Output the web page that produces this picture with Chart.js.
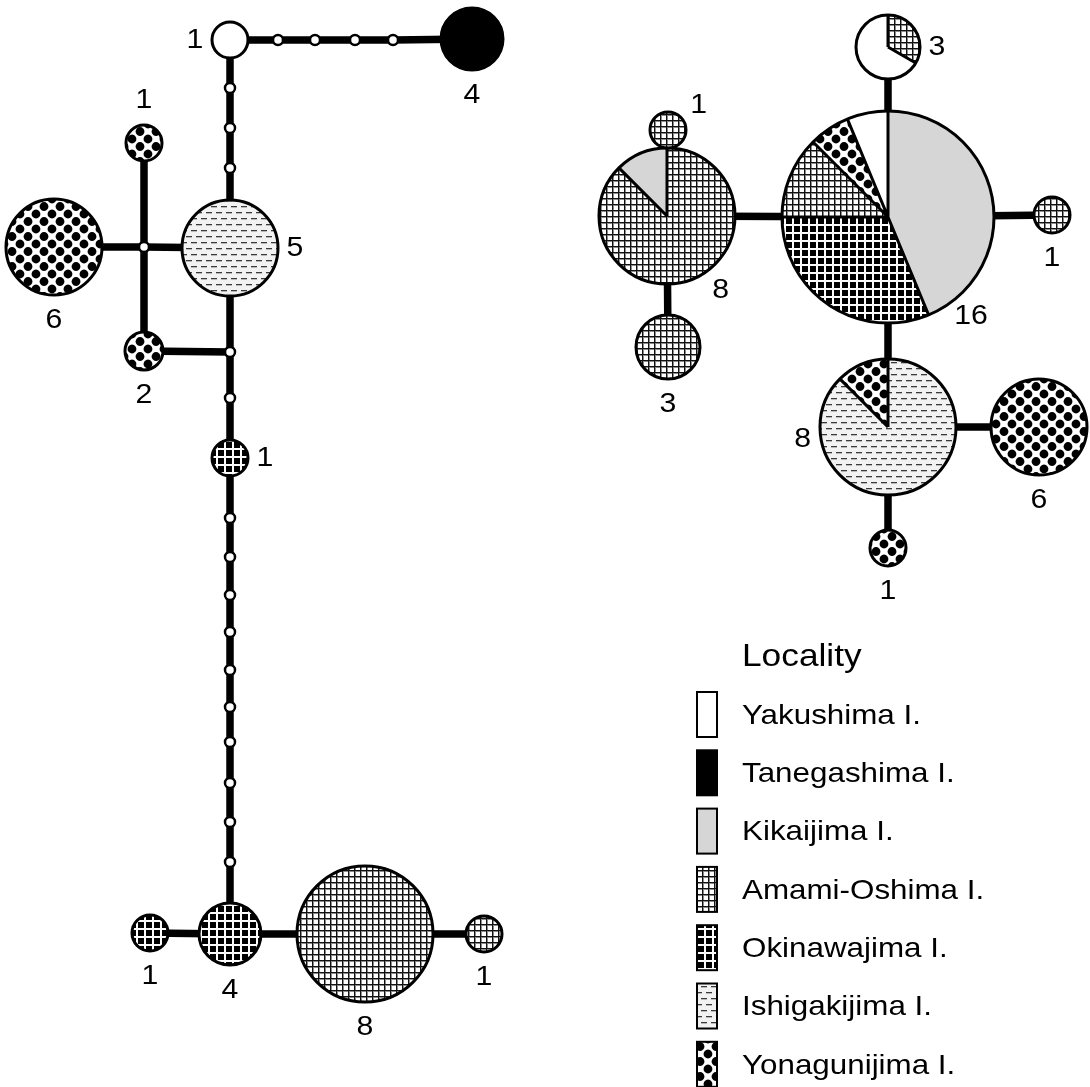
<!DOCTYPE html>
<html>
<head>
<meta charset="utf-8">
<script src="https://cdn.jsdelivr.net/npm/chart.js@4.4.0/dist/chart.umd.min.js"></script>
<style>
    html, body { margin: 0; padding: 0; background: #fff; }
    canvas { display: block; }
</style>
</head>
<body>
<canvas id="network" width="1090" height="1087"></canvas>
<script>
// localities (legend order)
const localities = ['Yakushima I.', 'Tanegashima I.', 'Kikaijima I.', 'Amami-Oshima I.',
    'Okinawajima I.', 'Ishigakijima I.', 'Yonagunijima I.'];

// haplotypes: layout position in network units, and [locality, count] slices clockwise from top
const hapIds = ['Y1', 'T4', 'I5', 'G1', 'G6', 'G2', 'O1', 'O4', 'O1b', 'A8', 'A1',
    'R3', 'R16', 'R8a', 'R1a', 'R3b', 'R1b', 'R8b', 'R6', 'R1c'];
const hapX = [230, 472, 230, 144, 54, 144, 230, 230, 150, 365, 484,
    888, 888, 667, 668, 668, 1052, 888, 1039, 888];
const hapY = [40, 39, 248, 143, 247, 351, 458, 934, 933, 934, 934,
    47, 217, 216, 130, 347, 215, 427, 427, 548];
const hapSlices = [
    [[0, 1]], [[1, 4]], [[5, 5]], [[6, 1]], [[6, 6]], [[6, 2]], [[4, 1]], [[4, 4]], [[4, 1]], [[3, 8]], [[3, 1]],
    [[3, 1], [0, 2]],
    [[2, 7], [4, 5], [3, 2], [6, 1], [0, 1]],
    [[3, 7], [2, 1]],
    [[3, 1]], [[3, 3]], [[3, 1]],
    [[5, 7], [6, 1]],
    [[6, 6]], [[6, 1]]
];
// side of the count label, degrees clockwise from top
const hapLabelAngle = [270, 180, 90, 0, 180, 180, 90, 180, 180, 180, 180,
    90, 140, 144, 50, 180, 180, 262, 180, 180];

// missing (median) haplotypes
const medIds = ['m1', 'm2', 'm3', 'm4', 'v1', 'v2', 'v3', 'J', 'K', 'v4',
    'd1', 'd2', 'd3', 'd4', 'd5', 'd6', 'd7', 'd8', 'd9', 'd10'];
const medX = [278, 315, 355, 393, 230, 230, 230, 144, 230, 230,
    230, 230, 230, 230, 230, 230, 230, 230, 230, 230];
const medY = [40, 40, 40, 40, 88, 128, 168, 247, 352, 398,
    518, 557, 595, 632, 670, 707, 742, 783, 822, 862];

// mutational paths
const paths = [
    ['Y1', 'm1', 'm2', 'm3', 'm4', 'T4'],
    ['Y1', 'v1', 'v2', 'v3', 'I5', 'K', 'v4', 'O1', 'd1', 'd2', 'd3', 'd4', 'd5', 'd6', 'd7', 'd8', 'd9', 'd10', 'O4'],
    ['G6', 'J', 'I5'],
    ['G1', 'J', 'G2', 'K'],
    ['O1b', 'O4', 'A8', 'A1'],
    ['R3', 'R16', 'R8b', 'R1c'],
    ['R8a', 'R16', 'R1b'],
    ['R1a', 'R8a', 'R3b'],
    ['R8b', 'R6']
];

// ---- styles ----
const FONT = '"Liberation Sans", Arial, sans-serif';
const TEXT_STRETCH = 1.12;
const radiusByCount = {1: 18, 2: 19, 3: 32, 4: 31, 5: 48, 6: 48, 8: 68, 16: 106};

function tile(w, h, draw) {
    const c = document.createElement('canvas');
    c.width = w;
    c.height = h;
    draw(c.getContext('2d'), w, h);
    return c;
}

function buildFills(ctx) {
    const amami = tile(6, 6, g => {
        g.fillStyle = '#fff'; g.fillRect(0, 0, 6, 6);
        g.fillStyle = '#8a8a8a'; g.fillRect(0, 1, 6, 1); g.fillRect(1, 0, 1, 6);
        g.fillStyle = '#111'; g.fillRect(0, 0, 6, 1); g.fillRect(0, 0, 1, 6);
    });
    const okinawa = tile(8, 8, g => {
        g.fillStyle = '#000'; g.fillRect(0, 0, 8, 8);
        g.fillStyle = '#fff'; g.fillRect(0, 0, 8, 2); g.fillRect(0, 0, 2, 8);
    });
    const ishigaki = tile(10, 12, g => {
        g.fillStyle = '#f2f2f2'; g.fillRect(0, 0, 10, 12);
        g.fillStyle = '#3a3a3a';
        g.fillRect(1, 2, 6, 1.3);
        g.fillRect(6, 8, 4, 1.3); g.fillRect(0, 8, 2, 1.3);
    });
    const yonaguni = tile(16, 15, g => {
        g.fillStyle = '#fff'; g.fillRect(0, 0, 16, 15);
        g.fillStyle = '#000';
        [[4, 4], [12, 11.5]].forEach(([cx, cy]) => {
            for (let ox = -16; ox <= 16; ox += 16) {
                for (let oy = -15; oy <= 15; oy += 15) {
                    g.beginPath();
                    g.arc(cx + ox, cy + oy, 4.4, 0, Math.PI * 2);
                    g.fill();
                }
            }
        });
    });
    return [
        '#ffffff',
        '#000000',
        '#d6d6d6',
        ctx.createPattern(amami, 'repeat'),
        ctx.createPattern(okinawa, 'repeat'),
        ctx.createPattern(ishigaki, 'repeat'),
        ctx.createPattern(yonaguni, 'repeat')
    ];
}

function stretchedText(ctx, text, x, y, align) {
    ctx.save();
    ctx.translate(x, y);
    ctx.scale(TEXT_STRETCH, 1);
    ctx.textAlign = align;
    ctx.fillText(text, 0, 0);
    ctx.restore();
}

function drawPie(ctx, fills, x, y, r, slices) {
    const total = slices.reduce((s, p) => s + p[1], 0);
    const starts = [];
    let a = -Math.PI / 2;
    slices.forEach(([loc, n]) => {
        const a2 = a + n / total * Math.PI * 2;
        ctx.beginPath();
        if (slices.length > 1) ctx.moveTo(x, y);
        ctx.arc(x, y, r, a, a2);
        ctx.closePath();
        ctx.fillStyle = fills[loc];
        ctx.fill();
        starts.push(a);
        a = a2;
    });
    ctx.strokeStyle = '#000';
    ctx.lineWidth = 3;
    if (slices.length > 1) {
        ctx.beginPath();
        starts.forEach(s => {
            ctx.moveTo(x, y);
            ctx.lineTo(x + r * Math.cos(s), y + r * Math.sin(s));
        });
        ctx.stroke();
    }
    ctx.beginPath();
    ctx.arc(x, y, r, 0, Math.PI * 2);
    ctx.stroke();
    return total;
}

const networkPlugin = {
    id: 'network',
    beforeDraw(chart) {
        const ctx = chart.ctx;
        ctx.save();
        ctx.fillStyle = '#fff';
        ctx.fillRect(0, 0, chart.width, chart.height);
        ctx.restore();
    },
    afterDatasetsDraw(chart) {
        const ctx = chart.ctx;
        const fills = buildFills(ctx);
        const hapMeta = chart.getDatasetMeta(chart.data.datasets.length - 1);
        ctx.save();
        hapMeta.data.forEach((pt, i) => {
            const count = hapSlices[i].reduce((s, p) => s + p[1], 0);
            const r = radiusByCount[count];
            drawPie(ctx, fills, pt.x, pt.y, r, hapSlices[i]);
            const ang = hapLabelAngle[i] * Math.PI / 180;
            const d = r + 17 + 8 * Math.abs(Math.cos(ang));
            ctx.fillStyle = '#000';
            ctx.font = '27px ' + FONT;
            ctx.textBaseline = 'middle';
            stretchedText(ctx, String(count), pt.x + d * Math.sin(ang), pt.y - d * Math.cos(ang) + 1, 'center');
        });

        // legend
        const xs = chart.scales.x, ys = chart.scales.y;
        const boxX = xs.getPixelForValue(697), textX = xs.getPixelForValue(742);
        ctx.fillStyle = '#000';
        ctx.textBaseline = 'alphabetic';
        ctx.font = '31.5px ' + FONT;
        stretchedText(ctx, 'Locality', textX, ys.getPixelForValue(666), 'left');
        ctx.font = '28px ' + FONT;
        localities.forEach((name, i) => {
            const top = ys.getPixelForValue(692 + i * 58.3);
            ctx.fillStyle = fills[i];
            ctx.fillRect(boxX, top, 20, 45);
            ctx.strokeStyle = '#000';
            ctx.lineWidth = 2;
            ctx.strokeRect(boxX, top, 20, 45);
            ctx.fillStyle = '#000';
            ctx.textBaseline = 'middle';
            stretchedText(ctx, name, textX, top + 24, 'left');
        });
        ctx.restore();
    }
};

const pos = {};
hapIds.forEach((id, i) => { pos[id] = {x: hapX[i], y: hapY[i]}; });
medIds.forEach((id, i) => { pos[id] = {x: medX[i], y: medY[i]}; });

const edgeDatasets = paths.map(p => ({
    type: 'line',
    data: p.map(id => pos[id]),
    borderColor: '#000',
    borderWidth: 7.5,
    pointRadius: 0,
    fill: false,
    tension: 0,
    order: 3
}));

new Chart(document.getElementById('network'), {
    type: 'scatter',
    data: {
        datasets: [
            ...edgeDatasets,
            {
                data: medIds.map(id => pos[id]),
                pointRadius: 5,
                borderWidth: 2.5,
                backgroundColor: '#fff',
                borderColor: '#000',
                order: 2
            },
            {
                data: hapIds.map(id => pos[id]),
                pointRadius: 0,
                order: 1
            }
        ]
    },
    options: {
        responsive: false,
        animation: false,
        devicePixelRatio: 1,
        events: [],
        layout: {padding: 0, autoPadding: false},
        scales: {
            x: {type: 'linear', min: 0, max: 1090, display: false},
            y: {type: 'linear', min: 0, max: 1087, reverse: true, display: false}
        },
        plugins: {
            legend: {display: false},
            tooltip: {enabled: false}
        }
    },
    plugins: [networkPlugin]
});
</script>
</body>
</html>
